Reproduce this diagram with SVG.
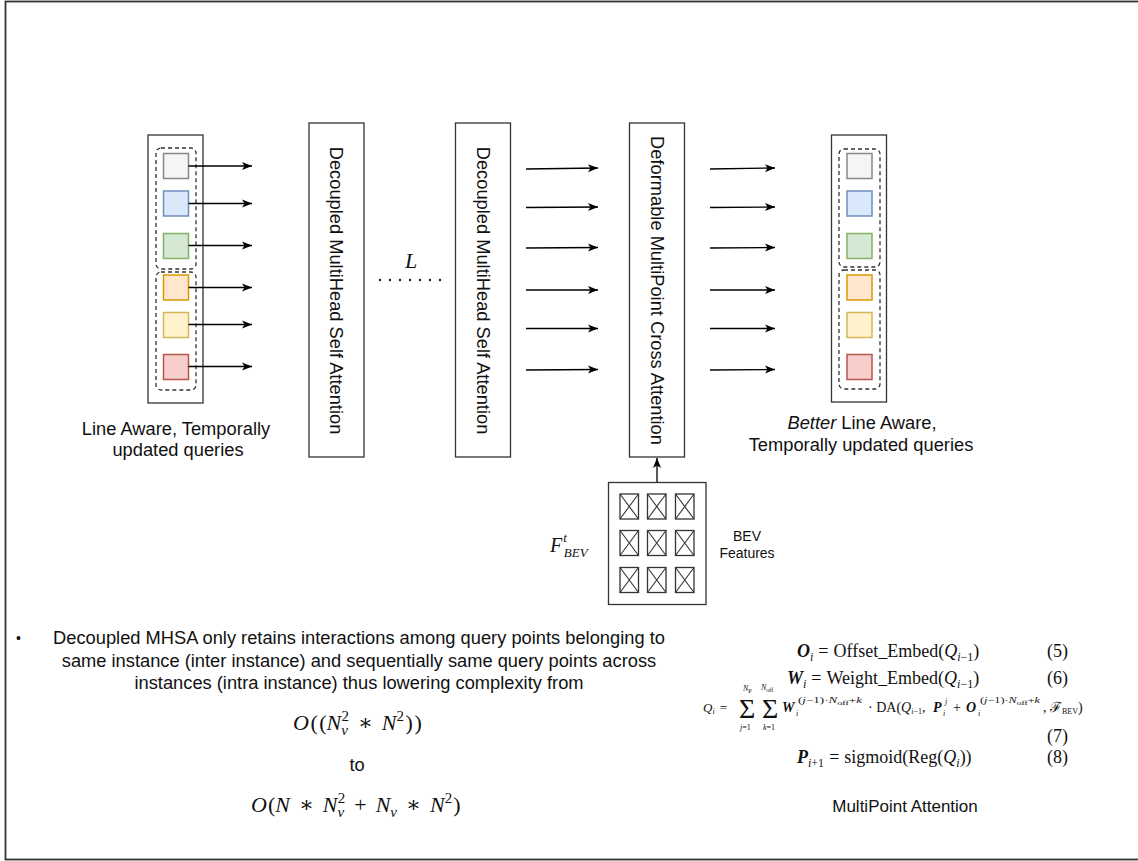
<svg xmlns="http://www.w3.org/2000/svg" width="1138" height="861" viewBox="0 0 1138 861">
<defs>
<marker id="arr" markerUnits="userSpaceOnUse" markerWidth="12" markerHeight="10" refX="11" refY="5" orient="auto">
<path d="M1,1 L11,5 L1,9 L3.5,5 Z" fill="#000"/>
</marker>
<style>
.frame{fill:none;stroke:#333;stroke-width:1.8}
.box{fill:#fff;stroke:#333;stroke-width:1.3}
.dash{fill:none;stroke:#333;stroke-width:1.3;stroke-dasharray:4 3}
.sq{stroke-width:1.5}
.c1{fill:#f5f5f5;stroke:#888}
.c2{fill:#dae8fc;stroke:#6c8ebf}
.c3{fill:#d5e8d4;stroke:#82b366}
.c4{fill:#ffe6cc;stroke:#d79b00}
.c5{fill:#fff2cc;stroke:#d6b656}
.c6{fill:#f8cecc;stroke:#b85450}
.lbl{font-family:"Liberation Sans",Arial,sans-serif;font-size:18.3px;fill:#111}
.sm{font-size:14px}
.math{font-family:"Liberation Serif","DejaVu Serif",serif;fill:#111}
.it{font-style:italic}
.bi{font-style:italic;font-weight:bold}
.conn line{stroke:#000;stroke-width:1.3;marker-end:url(#arr)}
.cell rect{fill:#fff;stroke:#333;stroke-width:1.3}
.cell path{stroke:#333;stroke-width:1.1;fill:none}
</style>
</defs>
<rect x="0" y="0" width="1138" height="861" fill="#fff"/>
<rect class="frame" x="5.5" y="1.5" width="1140" height="858"/>

<g id="queries-in">
<rect class="box" x="148" y="135" width="55" height="268"/>
<rect class="dash" x="156" y="148" width="40" height="121" rx="5"/>
<rect class="dash" x="156" y="272" width="40" height="118" rx="5"/>
<rect class="sq c1" x="163.5" y="153.5" width="25" height="25"/>
<rect class="sq c2" x="163.5" y="191" width="25" height="25"/>
<rect class="sq c3" x="163.5" y="233.5" width="25" height="25"/>
<rect class="sq c4" x="163.5" y="275" width="25" height="25"/>
<rect class="sq c5" x="163.5" y="312.5" width="25" height="25"/>
<rect class="sq c6" x="163.5" y="354.5" width="25" height="25"/>
<text class="lbl" text-anchor="middle" x="176" y="435">Line Aware, Temporally</text>
<text class="lbl" text-anchor="middle" x="178" y="456">updated queries</text>
</g>

<g id="dmhsa-1">
<rect class="box" x="309" y="123" width="55" height="334"/>
<text class="lbl" text-anchor="middle" dy="0.35em" transform="translate(336.5,290.5) rotate(90)">Decoupled MultiHead Self Attention</text>
</g>

<g id="repeat-L">
<text class="math it" x="411" y="268" font-size="22" text-anchor="middle">L</text>
<g fill="#222">
<circle cx="380" cy="280" r="1.2"/><circle cx="390" cy="280" r="1.2"/><circle cx="400" cy="280" r="1.2"/><circle cx="410" cy="280" r="1.2"/><circle cx="420" cy="280" r="1.2"/><circle cx="430" cy="280" r="1.2"/><circle cx="440" cy="280" r="1.2"/>
</g>
</g>

<g id="dmhsa-2">
<rect class="box" x="455.5" y="123" width="55" height="334"/>
<text class="lbl" text-anchor="middle" dy="0.35em" transform="translate(483,290.5) rotate(90)">Decoupled MultiHead Self Attention</text>
</g>

<g id="dmpca">
<rect class="box" x="629.5" y="123" width="55" height="334"/>
<text class="lbl" text-anchor="middle" dy="0.35em" transform="translate(657,290.5) rotate(90)">Deformable MultiPoint Cross Attention</text>
</g>

<g id="bev">
<rect class="box" x="608.5" y="482.5" width="97.5" height="122"/>
<g class="cell">
<rect x="620" y="494" width="18.5" height="25"/><path d="M620,494 L638.5,519 M638.5,494 L620,519"/>
<rect x="647.5" y="494" width="18.5" height="25"/><path d="M647.5,494 L666,519 M666,494 L647.5,519"/>
<rect x="675.5" y="494" width="18.5" height="25"/><path d="M675.5,494 L694,519 M694,494 L675.5,519"/>
<rect x="620" y="530.5" width="18.5" height="25"/><path d="M620,530.5 L638.5,555.5 M638.5,530.5 L620,555.5"/>
<rect x="647.5" y="530.5" width="18.5" height="25"/><path d="M647.5,530.5 L666,555.5 M666,530.5 L647.5,555.5"/>
<rect x="675.5" y="530.5" width="18.5" height="25"/><path d="M675.5,530.5 L694,555.5 M694,530.5 L675.5,555.5"/>
<rect x="620" y="567.5" width="18.5" height="25"/><path d="M620,567.5 L638.5,592.5 M638.5,567.5 L620,592.5"/>
<rect x="647.5" y="567.5" width="18.5" height="25"/><path d="M647.5,567.5 L666,592.5 M666,567.5 L647.5,592.5"/>
<rect x="675.5" y="567.5" width="18.5" height="25"/><path d="M675.5,567.5 L694,592.5 M694,567.5 L675.5,592.5"/>
</g>
<text class="math" x="550" y="552"><tspan class="it" font-size="20">F</tspan><tspan class="it" font-size="13" dx="1" dy="-10">t</tspan><tspan class="it" font-size="13" dx="-3" dy="15">BEV</tspan></text>
<text class="lbl sm" text-anchor="middle" x="747" y="541">BEV</text>
<text class="lbl sm" text-anchor="middle" x="747" y="558">Features</text>
</g>

<g id="queries-out">
<rect class="box" x="831.5" y="135" width="55" height="267"/>
<rect class="dash" x="839" y="149" width="41" height="118" rx="5"/>
<rect class="dash" x="839" y="270" width="41" height="119" rx="5"/>
<rect class="sq c1" x="847" y="153.5" width="25" height="25"/>
<rect class="sq c2" x="847" y="191" width="25" height="25"/>
<rect class="sq c3" x="847" y="233.5" width="25" height="25"/>
<rect class="sq c4" x="847" y="275" width="25" height="25"/>
<rect class="sq c5" x="847" y="312.5" width="25" height="25"/>
<rect class="sq c6" x="847" y="354.5" width="25" height="25"/>
<text class="lbl" text-anchor="middle" x="862" y="429"><tspan font-style="italic">Better</tspan> Line Aware,</text>
<text class="lbl" text-anchor="middle" x="861" y="451">Temporally updated queries</text>
</g>

<g id="connectors" class="conn">
<line x1="188.5" y1="166" x2="252" y2="166"/>
<line x1="188.5" y1="203.5" x2="252" y2="203.5"/>
<line x1="188.5" y1="245.5" x2="252" y2="245.5"/>
<line x1="188.5" y1="287.5" x2="252" y2="287.5"/>
<line x1="188.5" y1="324.5" x2="252" y2="324.5"/>
<line x1="188.5" y1="366.5" x2="252" y2="366.5"/>
<line x1="526" y1="169" x2="598" y2="168"/>
<line x1="526" y1="207.5" x2="598" y2="207"/>
<line x1="526" y1="248" x2="598" y2="247.5"/>
<line x1="526" y1="290" x2="598" y2="290"/>
<line x1="526" y1="328.5" x2="598" y2="328.5"/>
<line x1="526" y1="370" x2="598" y2="369.5"/>
<line x1="710" y1="169" x2="775" y2="168"/>
<line x1="710" y1="207.5" x2="775" y2="207"/>
<line x1="710" y1="248" x2="775" y2="247.5"/>
<line x1="710" y1="290" x2="775" y2="290"/>
<line x1="710" y1="328.5" x2="775" y2="328.5"/>
<line x1="710" y1="370" x2="775" y2="369.5"/>
<line x1="657" y1="482" x2="657" y2="458"/>
</g>

<g id="complexity-note">
<text class="lbl" x="16" y="643" style="font-size:14px">•</text>
<text class="lbl" text-anchor="middle" x="359" y="644">Decoupled MHSA only retains interactions among query points belonging to</text>
<text class="lbl" text-anchor="middle" x="359" y="667">same instance (inter instance) and sequentially same query points across</text>
<text class="lbl" text-anchor="middle" x="359" y="689">instances (intra instance) thus lowering complexity from</text>
<text class="math" font-size="22" x="293" y="730"><tspan class="it">O</tspan><tspan dx="1.5">(</tspan><tspan dx="1.5">(</tspan><tspan class="it">N</tspan><tspan class="it" font-size="15" dy="5">v</tspan><tspan font-size="15" dx="-6.5" dy="-14">2</tspan><tspan dy="9" dx="9">∗</tspan><tspan class="it" dx="9">N</tspan><tspan font-size="15" dy="-9">2</tspan><tspan dy="9" dx="1.5">)</tspan><tspan dx="1.5">)</tspan></text>
<text class="lbl" text-anchor="middle" x="357" y="771">to</text>
<text class="math" font-size="22" x="251" y="812"><tspan class="it">O</tspan><tspan dx="1">(</tspan><tspan class="it">N</tspan><tspan dx="9">∗</tspan><tspan class="it" dx="9">N</tspan><tspan class="it" font-size="15" dy="5">v</tspan><tspan font-size="15" dx="-6.5" dy="-14">2</tspan><tspan dy="9" dx="9">+</tspan><tspan class="it" dx="9">N</tspan><tspan class="it" font-size="15" dy="5">v</tspan><tspan dy="-5" dx="9">∗</tspan><tspan class="it" dx="9">N</tspan><tspan font-size="15" dy="-9">2</tspan><tspan dy="9" dx="1">)</tspan></text>
</g>

<g id="multipoint-equations">
<text class="math" font-size="18" x="797" y="657"><tspan class="bi">O</tspan><tspan class="it" font-size="12" dy="4">i</tspan><tspan dy="-4" dx="5">=</tspan><tspan dx="5">Offset_Embed(</tspan><tspan class="it">Q</tspan><tspan font-size="12" dy="4"><tspan class="it">i</tspan>−1</tspan><tspan dy="-4">)</tspan></text>
<text class="math" font-size="18" x="1047" y="657">(5)</text>
<text class="math" font-size="18" x="787" y="684"><tspan class="bi">W</tspan><tspan class="it" font-size="12" dy="4">i</tspan><tspan dy="-4" dx="5">=</tspan><tspan dx="5">Weight_Embed(</tspan><tspan class="it">Q</tspan><tspan font-size="12" dy="4"><tspan class="it">i</tspan>−1</tspan><tspan dy="-4">)</tspan></text>
<text class="math" font-size="18" x="1047" y="684">(6)</text>

<text class="math" font-size="13" x="703" y="712"><tspan class="it">Q</tspan><tspan class="it" font-size="8" dy="2">i</tspan><tspan dy="-2" dx="5">=</tspan></text>
<text class="math" font-size="28" x="739" y="718">Σ</text>
<text class="math it" font-size="8" x="743" y="691">N<tspan font-size="6" dy="1.5" font-style="normal">P</tspan></text>
<text class="math" font-size="8" x="740" y="730"><tspan class="it">j</tspan>=1</text>
<text class="math" font-size="28" x="762" y="718">Σ</text>
<text class="math" font-size="8" x="761" y="690"><tspan class="it">N</tspan><tspan font-size="6" dy="1.5">off</tspan></text>
<text class="math" font-size="8" x="763" y="730"><tspan class="it">k</tspan>=1</text>
<text class="math bi" font-size="14" x="782" y="712">W</text>
<text class="math it" font-size="8" x="796" y="716">i</text>
<text class="math" font-size="9" x="798" y="703" textLength="64" lengthAdjust="spacingAndGlyphs">(<tspan class="it">j</tspan>−1)·<tspan class="it">N</tspan><tspan font-size="7" dy="1.5">off</tspan><tspan dy="-1.5">+</tspan><tspan class="it">k</tspan></text>
<text class="math" font-size="14" x="868" y="712">· DA(<tspan class="it">Q</tspan><tspan font-size="8" dy="2"><tspan class="it">i</tspan>−1</tspan><tspan dy="-2">,</tspan></text>
<text class="math bi" font-size="14" x="933" y="712">P</text>
<text class="math it" font-size="8" x="943" y="716">i</text>
<text class="math it" font-size="8" x="945" y="704">j</text>
<text class="math" font-size="14" x="953" y="712">+</text>
<text class="math bi" font-size="14" x="966" y="712">O</text>
<text class="math it" font-size="8" x="978" y="716">i</text>
<text class="math" font-size="9" x="980" y="703" textLength="60" lengthAdjust="spacingAndGlyphs">(<tspan class="it">j</tspan>−1)·<tspan class="it">N</tspan><tspan font-size="7" dy="1.5">off</tspan><tspan dy="-1.5">+</tspan><tspan class="it">k</tspan></text>
<text class="math" font-size="14" x="1043" y="712">, ℱ<tspan font-size="8" dy="2">BEV</tspan><tspan dy="-2">)</tspan></text>
<text class="math" font-size="18" x="1047" y="742">(7)</text>

<text class="math" font-size="18" x="797" y="763"><tspan class="bi">P</tspan><tspan font-size="12" dy="4"><tspan class="it">i</tspan>+1</tspan><tspan dy="-4" dx="5">=</tspan><tspan dx="5">sigmoid(Reg(</tspan><tspan class="it">Q</tspan><tspan class="it" font-size="12" dy="4">i</tspan><tspan dy="-4">))</tspan></text>
<text class="math" font-size="18" x="1047" y="763">(8)</text>
<text class="lbl" text-anchor="middle" x="905" y="812" style="font-size:17px">MultiPoint Attention</text>
</g>
</svg>
